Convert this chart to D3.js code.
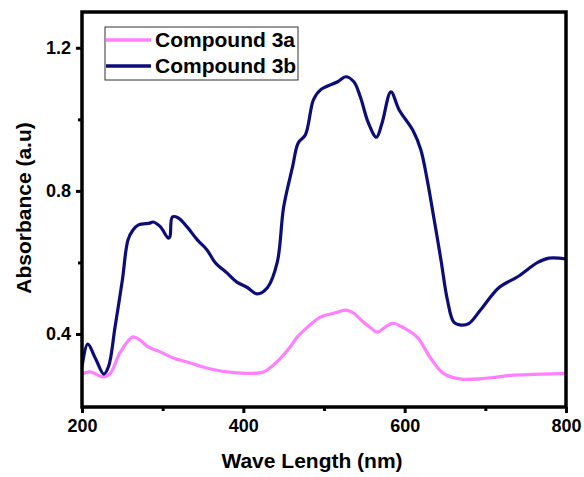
<!DOCTYPE html>
<html>
<head>
<meta charset="utf-8">
<script src="https://cdn.jsdelivr.net/npm/d3@7"></script>
<style>
  body { margin: 0; background: #fff; }
  svg { font-family: Arial, "Liberation Sans", sans-serif; font-weight: bold; }
</style>
</head>
<body>
<div id="chart"></div>
<script>
// Compound 3a (pink)
const wl3a = [200, 210, 226, 235, 247, 263, 272, 282, 297, 313, 330, 350, 380, 405, 425, 437, 445, 458, 467, 480, 496, 512, 527, 537, 548, 558, 566, 575, 585, 599, 616, 632, 648, 670, 703, 735, 770, 800];
const abs3a = [0.288, 0.294, 0.28, 0.29, 0.347, 0.392, 0.383, 0.364, 0.35, 0.333, 0.322, 0.308, 0.294, 0.29, 0.294, 0.313, 0.33, 0.364, 0.392, 0.42, 0.448, 0.458, 0.467, 0.458, 0.435, 0.417, 0.405, 0.418, 0.43, 0.417, 0.39, 0.333, 0.29, 0.274, 0.277, 0.285, 0.288, 0.29];

// Compound 3b (navy)
const wl3b = [200, 207, 217, 227, 233, 241, 250, 257, 263, 270, 284, 288, 297, 307, 309, 312, 319, 330, 343, 355, 365, 380, 392, 405, 417, 430, 442, 450, 461, 468, 477, 487, 496, 517, 527, 537, 545, 555, 565, 572, 583, 593, 610, 620, 628, 636, 645, 653, 661, 670, 680, 694, 717, 740, 765, 779, 800];
const abs3b = [0.308, 0.372, 0.33, 0.288, 0.31, 0.42, 0.55, 0.663, 0.69, 0.705, 0.71, 0.713, 0.70, 0.668, 0.672, 0.727, 0.725, 0.70, 0.663, 0.635, 0.60, 0.57, 0.545, 0.53, 0.512, 0.53, 0.60, 0.755, 0.867, 0.934, 0.957, 1.055, 1.083, 1.105, 1.119, 1.105, 1.063, 0.99, 0.95, 0.99, 1.077, 1.027, 0.97, 0.915, 0.83, 0.727, 0.607, 0.495, 0.433, 0.425, 0.43, 0.467, 0.53, 0.56, 0.60, 0.612, 0.61];

const xTicks = [200, 400, 600, 800];
const xMinor = [300, 500, 700];
const yTicks = [0.4, 0.8, 1.2];
const yMinor = [0.6, 1.0];

const seriesNames = ["Compound 3a", "Compound 3b"];
const seriesColors = ["#ff80ff", "#0d0d78"];

const width = 584, height = 477;
const margin = { top: 12, right: 18, bottom: 70, left: 82 };
const innerWidth = width - margin.left - margin.right;
const innerHeight = height - margin.top - margin.bottom;

const svg = d3.select("#chart").append("svg")
  .attr("width", width).attr("height", height);
const g = svg.append("g").attr("transform", `translate(${margin.left},${margin.top})`);

const x = d3.scaleLinear().domain([200, 800]).range([0, innerWidth]);
const y = d3.scaleLinear().domain([0.196, 1.3]).range([innerHeight, 0]);

const line = d3.line()
  .x((d) => x(d[0]))
  .y((d) => y(d[1]))
  .curve(d3.curveCatmullRom.alpha(0.5));

const series = [
  wl3a.map((w, i) => [w, abs3a[i]]),
  wl3b.map((w, i) => [w, abs3b[i]]),
];

g.append("defs").append("clipPath").attr("id", "clip")
  .append("rect").attr("width", innerWidth).attr("height", innerHeight);

series.forEach((s, i) => {
  g.append("path")
    .datum(s)
    .attr("clip-path", "url(#clip)")
    .attr("fill", "none")
    .attr("stroke", seriesColors[i])
    .attr("stroke-width", 3.2)
    .attr("stroke-linejoin", "round")
    .attr("d", line);
});

// frame
g.append("rect")
  .attr("width", innerWidth).attr("height", innerHeight)
  .attr("fill", "none").attr("stroke", "#000").attr("stroke-width", 3.5);

// axes
g.append("g").attr("transform", `translate(0,${innerHeight})`)
  .call(d3.axisBottom(x).tickValues(xTicks).tickSize(6).tickPadding(6).tickFormat(d3.format("d")));
g.append("g").attr("class", "minor").attr("transform", `translate(0,${innerHeight})`)
  .call(d3.axisBottom(x).tickValues(xMinor).tickSize(4));
g.append("g")
  .call(d3.axisLeft(y).tickValues(yTicks).tickSize(6).tickPadding(5).tickFormat(d3.format(".1f")));
g.append("g").attr("class", "minor")
  .call(d3.axisLeft(y).tickValues(yMinor).tickSize(4));

g.selectAll(".minor .tick text").remove();
g.selectAll(".domain").remove();
g.selectAll(".tick line").attr("stroke", "#000").attr("stroke-width", 3);
g.selectAll(".tick text").attr("fill", "#000").style("font-size", "18px").style("font-weight", "bold");

// axis titles
svg.append("text")
  .attr("x", margin.left + innerWidth / 2 - 12).attr("y", 468)
  .attr("text-anchor", "middle").style("font-size", "21px")
  .text("Wave Length (nm)");
svg.append("text")
  .attr("transform", `translate(31,${208}) rotate(-90)`)
  .attr("text-anchor", "middle").style("font-size", "21px")
  .text("Absorbance (a.u)");

// legend
const legend = svg.append("g").attr("transform", "translate(105,27)");
legend.append("rect")
  .attr("width", 193).attr("height", 53)
  .attr("fill", "#fff").attr("stroke", "#333").attr("stroke-width", 1);
seriesNames.forEach((name, i) => {
  const ly = 13 + i * 26;
  legend.append("line")
    .attr("x1", 1).attr("x2", 46).attr("y1", ly).attr("y2", ly)
    .attr("stroke", seriesColors[i]).attr("stroke-width", 3.5);
  legend.append("text")
    .attr("x", 50).attr("y", ly + 7)
    .style("font-size", "21px")
    .text(name);
});
</script>
</body>
</html>
